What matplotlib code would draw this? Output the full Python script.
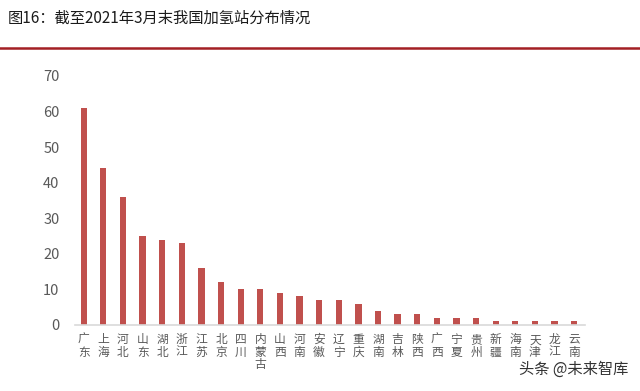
import matplotlib
matplotlib.use("Agg")
import matplotlib.pyplot as plt
from matplotlib.lines import Line2D

plt.rcParams['font.family'] = ['Noto Sans CJK SC', 'DejaVu Sans']

provinces = ["广东", "上海", "河北", "山东", "湖北", "浙江", "江苏", "北京", "四川", "内蒙古",
             "山西", "河南", "安徽", "辽宁", "重庆", "湖南", "吉林", "陕西", "广西", "宁夏",
             "贵州", "新疆", "海南", "天津", "龙江", "云南"]
stations = [61, 44, 36, 25, 24, 23, 16, 12, 10, 10,
            9, 8, 7, 7, 6, 4, 3, 3, 2, 2,
            2, 1, 1, 1, 1, 1]
yticks = [0, 10, 20, 30, 40, 50, 60, 70]

fig = plt.figure(figsize=(6.4, 3.91), dpi=100)
ax = fig.add_axes([0.117, 0.169, 0.797, 0.637])

x = list(range(len(provinces)))
ax.bar(x, stations, width=0.32, color="#C0504D", zorder=2)
ax.set_ylim(0, 70)
ax.set_xlim(-0.45, len(provinces) - 0.45)
ax.set_yticks(yticks)
ax.set_yticklabels([str(v) for v in yticks], fontsize=10.5, color="#595959")
ax.set_xticks(x)
ax.set_xticklabels(["\n".join(p) for p in provinces], fontsize=8.5, color="#595959",
                   linespacing=0.95, va="top")
ax.tick_params(axis="both", length=0)
ax.tick_params(axis="y", pad=11)
ax.tick_params(axis="x", pad=6)
for s in ["top", "right", "left"]:
    ax.spines[s].set_visible(False)
ax.spines["bottom"].set_color("#D9D9D9")
ax.spines["bottom"].set_linewidth(1.2)

fig.text(0.012, 0.953, "图16：截至2021年3月末我国加氢站分布情况", fontsize=11,
         color="#1a1a1a", va="center", ha="left")
fig.add_artist(Line2D([0, 1], [0.877, 0.877], transform=fig.transFigure,
                      color="#A31F24", linewidth=1.8))
fig.text(0.982, 0.055, "头条 @未来智库", fontsize=11, color="#333333",
         ha="right", va="center")

fig.savefig("out.png", dpi=100)
